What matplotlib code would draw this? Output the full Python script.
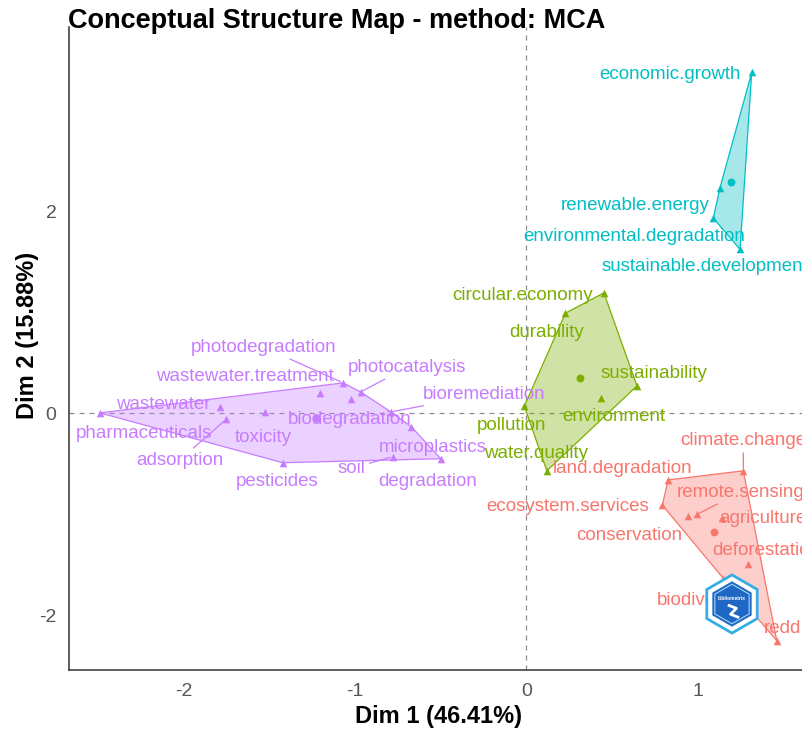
import matplotlib
matplotlib.use("Agg")
import matplotlib.pyplot as plt
from matplotlib.patches import Polygon, RegularPolygon
import numpy as np

plt.rcParams['font.family'] = ['Liberation Sans', 'DejaVu Sans']
plt.rcParams['axes.unicode_minus'] = False

# cluster 1 (purple)
purple_terms = ["pharmaceuticals", "wastewater", "adsorption", "toxicity", "wastewater.treatment",
                "photodegradation", "photocatalysis", "biodegradation", "bioremediation",
                "microplastics", "soil", "degradation", "pesticides"]
purple_x = [-2.487, -1.785, -1.75, -1.526, -1.205, -1.068, -0.967, -1.023, -0.79, -0.67, -0.78, -0.50, -1.42]
purple_y = [0.003, 0.06, -0.06, 0.013, 0.20, 0.30, 0.21, 0.14, 0.013, -0.135, -0.43, -0.45, -0.49]

# cluster 2 (green)
green_terms = ["circular.economy", "durability", "sustainability", "environment", "pollution", "water.quality"]
green_x = [0.452, 0.228, 0.645, 0.437, -0.012, 0.119]
green_y = [1.19, 0.99, 0.27, 0.155, 0.07, -0.57]

# cluster 3 (cyan)
cyan_terms = ["economic.growth", "renewable.energy", "environmental.degradation", "sustainable.development"]
cyan_x = [1.314, 1.129, 1.09, 1.246]
cyan_y = [3.37, 2.23, 1.93, 1.62]

# cluster 4 (red)
red_terms = ["climate.change", "land.degradation", "ecosystem.services", "conservation", "remote.sensing",
             "agriculture", "deforestation", "biodiversity", "redd."]
red_x = [1.265, 0.826, 0.793, 0.943, 0.996, 1.138, 1.294, 1.149, 1.46]
red_y = [-0.57, -0.66, -0.91, -1.02, -1.00, -1.04, -1.49, -1.635, -2.25]

# where the repelled labels ended up (data coords)
label_pos = {
    "photodegradation": (-1.533, 0.653), "wastewater.treatment": (-1.644, 0.366),
    "photocatalysis": (-0.694, 0.455), "bioremediation": (-0.245, 0.188),
    "wastewater": (-2.117, 0.089), "pharmaceuticals": (-2.227, -0.198),
    "biodegradation": (-1.032, -0.06), "toxicity": (-1.533, -0.238),
    "microplastics": (-0.548, -0.337), "adsorption": (-2.023, -0.465),
    "soil": (-1.02, -0.545), "pesticides": (-1.452, -0.673), "degradation": (-0.577, -0.673),
    "circular.economy": (-0.023, 1.168), "durability": (0.117, 0.80),
    "sustainability": (0.741, 0.396), "environment": (0.507, -0.03),
    "pollution": (-0.087, -0.119), "water.quality": (0.058, -0.396),
    "economic.growth": (0.840, 3.347), "renewable.energy": (0.636, 2.05),
    "environmental.degradation": (0.630, 1.743), "sustainable.development": (1.04, 1.455),
    "climate.change": (1.265, -0.267), "land.degradation": (0.560, -0.545),
    "remote.sensing": (1.25, -0.78), "ecosystem.services": (0.239, -0.921),
    "agriculture": (1.38, -1.04), "conservation": (0.60, -1.208),
    "deforestation": (1.40, -1.356), "biodiversity": (1.03, -1.85), "redd.": (1.51, -2.13),
}
with_segment = ["photodegradation", "photocatalysis", "bioremediation", "adsorption", "soil",
                "climate.change", "remote.sensing"]


def hull(px, py):
    pts = sorted(zip(px, py))
    def cross(o, a, b):
        return (a[0] - o[0]) * (b[1] - o[1]) - (a[1] - o[1]) * (b[0] - o[0])
    lower, upper = [], []
    for p in pts:
        while len(lower) >= 2 and cross(lower[-2], lower[-1], p) <= 0:
            lower.pop()
        lower.append(p)
    for p in reversed(pts):
        while len(upper) >= 2 and cross(upper[-2], upper[-1], p) <= 0:
            upper.pop()
        upper.append(p)
    return lower[:-1] + upper[:-1]


fig = plt.figure(figsize=(8.03, 7.29), dpi=100)
ax = fig.add_axes([69 / 803, 59 / 729, 734 / 803, 643 / 729])
ax.set_xlim(-2.667, 1.613)
ax.set_ylim(-2.54, 3.82)

ax.axhline(0, color="#8c8c8c", lw=0.9, ls=(0, (4, 4)), zorder=1)
ax.axvline(0, color="#8c8c8c", lw=0.9, ls=(0, (4, 4)), zorder=1)

clusters = [
    (purple_terms, purple_x, purple_y, "#C77CFF"),
    (green_terms, green_x, green_y, "#7CAE00"),
    (cyan_terms, cyan_x, cyan_y, "#00BFC4"),
    (red_terms, red_x, red_y, "#F8766D"),
]

lab_size = 13.5
for terms, xs, ys, col in clusters:
    ax.add_patch(Polygon(hull(xs, ys), closed=True, facecolor=col, alpha=0.35, edgecolor="none", zorder=2))
    ax.add_patch(Polygon(hull(xs, ys), closed=True, fill=False, edgecolor=col, lw=0.9, zorder=3))
    ax.scatter(xs, ys, marker="^", s=30, color=col, zorder=4, linewidths=0)
    ax.scatter([np.mean(xs)], [np.mean(ys)], marker="o", s=32, color=col, zorder=4, linewidths=0)
    for t, x, y in zip(terms, xs, ys):
        lx, ly = label_pos[t]
        if t in with_segment:
            ax.annotate(t, xy=(x, y), xytext=(lx, ly), ha="center", va="center", fontsize=lab_size,
                        color=col, zorder=5,
                        arrowprops=dict(arrowstyle="-", color=col, lw=0.9, shrinkA=1, shrinkB=2))
        else:
            ax.text(lx, ly, t, ha="center", va="center", fontsize=lab_size, color=col, zorder=5)

for side in ["top", "right"]:
    ax.spines[side].set_visible(False)
for side in ["left", "bottom"]:
    ax.spines[side].set_color("#333333")
    ax.spines[side].set_linewidth(1.1)

ax.set_xticks([-2, -1, 0, 1])
ax.set_yticks([-2, 0, 2])
ax.tick_params(length=0, labelsize=14, labelcolor="#555555", pad=9)

ax.set_xlabel("Dim 1 (46.41%)", fontsize=17, fontweight="bold", va="center")
ax.set_ylabel("Dim 2 (15.88%)", fontsize=17, fontweight="bold", va="center")
ax.xaxis.set_label_coords(0.504, -0.073)
ax.yaxis.set_label_coords(-0.057, 0.52)
fig.text(68 / 803, 1 - 21 / 729, "Conceptual Structure Map - method: MCA", fontsize=19.5,
         fontweight="bold", ha="left", va="center")

# watermark logo
lax = fig.add_axes([700 / 803, 1 - 636 / 729, 64 / 803, 64 / 729])
lax.set_xlim(-1.1, 1.1)
lax.set_ylim(-1.1, 1.1)
lax.set_aspect("equal")
lax.axis("off")
lax.add_patch(RegularPolygon((0, 0), 6, radius=1.0, facecolor="white", edgecolor="#35aee6", lw=2))
lax.add_patch(RegularPolygon((0, 0), 6, radius=0.78, facecolor="#1f67c4", edgecolor="none"))
lax.add_patch(RegularPolygon((0, 0), 6, radius=0.68, facecolor="none", edgecolor="#9fd4f5", lw=0.8))
lax.text(0, 0.2, "bibliometrix", color="white", fontsize=3.5, ha="center", va="center", fontweight="bold")
lax.plot([-0.1, 0.15, -0.05, 0.2], [-0.05, -0.15, -0.35, -0.45], color="white", lw=2)

fig.savefig("out.png", dpi=100)
